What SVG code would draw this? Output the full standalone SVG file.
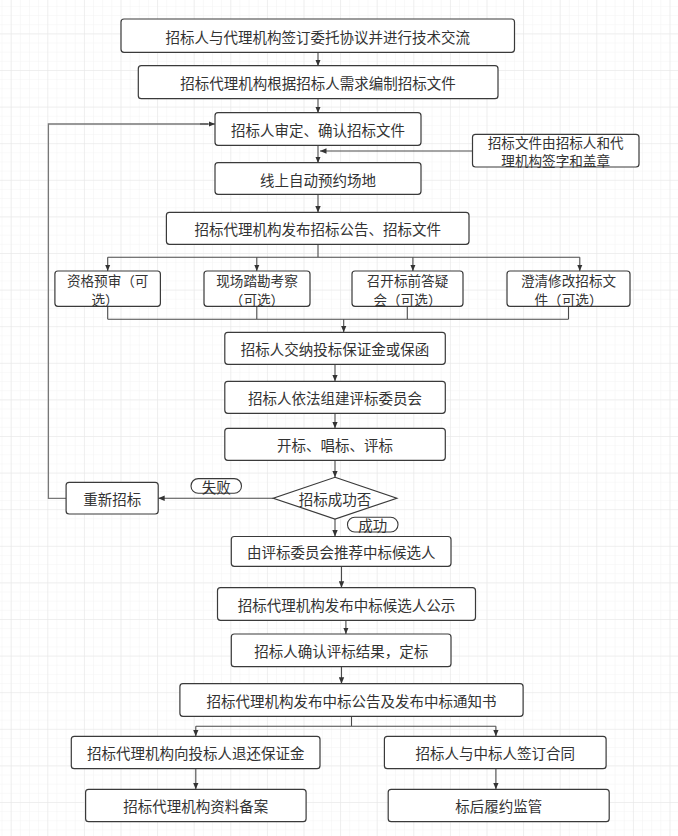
<svg xmlns="http://www.w3.org/2000/svg" width="678" height="836" viewBox="0 0 678 836">
<defs>
<style>
.box{fill:#fff;stroke:#3a3a3a;stroke-width:1.2}
.pill{fill:#fff;stroke:#3a3a3a;stroke-width:1.1}
.t{font-family:"Noto Sans CJK SC","Noto Sans",sans-serif;font-size:14.5px;fill:#333;text-anchor:middle;dominant-baseline:central}
.t2{font-size:13.6px}
.c{fill:none;stroke:#4a4a4a;stroke-width:1.1}
.ca{fill:none;stroke:#4a4a4a;stroke-width:1.1;marker-end:url(#ah)}
.fb{fill:none;stroke:#777;stroke-width:1.3}
</style>
<marker id="ah" markerUnits="userSpaceOnUse" markerWidth="7" markerHeight="6" refX="6.5" refY="3" orient="auto">
<path d="M0,0.3 L6.5,3 L0,5.7 z" fill="#333"/>
</marker>
<pattern id="minor" patternUnits="userSpaceOnUse" x="10.7" y="33.4" width="9.15" height="9.15">
<path d="M0,0 H9.15 M0,0 V9.15" fill="none" stroke="#f3f3f3" stroke-width="1"/>
</pattern>
<pattern id="major" patternUnits="userSpaceOnUse" x="10.7" y="33.4" width="36.6" height="36.6">
<path d="M0,0 H36.6 M0,0 V36.6" fill="none" stroke="#e6e6e6" stroke-width="1"/>
</pattern>
</defs>
<rect width="678" height="836" fill="#fff"/>
<rect width="678" height="836" fill="url(#minor)"/>
<rect width="678" height="836" fill="url(#major)"/>

<g id="connectors">
<path class="ca" d="M318,52.3 V66"/>
<path class="ca" d="M318,98.7 V113"/>
<path class="ca" d="M318,145.3 V163"/>
<path class="ca" d="M472.5,151 H320"/>
<path class="ca" d="M318,194.3 V212.5"/>
<path class="c" d="M318,244.5 V257.3 M107.7,257.3 H579.8"/>
<path class="ca" d="M107.7,257.3 V271"/>
<path class="ca" d="M256.8,257.3 V271"/>
<path class="ca" d="M412.9,257.3 V271"/>
<path class="ca" d="M579.8,257.3 V271"/>
<path class="c" d="M107.7,306.3 V319.3 M256.8,306.3 V319.3 M407.3,306.3 V319.3 M568.5,306.3 V319.3 M107.7,319.3 H568.5"/>
<path class="ca" d="M343.7,319.3 V332.3"/>
<path class="ca" d="M335,364.3 V381.3"/>
<path class="ca" d="M335,413.3 V428.3"/>
<path class="ca" d="M335,460.3 V477.3"/>
<path class="ca" d="M335,519 V536.5"/>
<path class="ca" d="M273.3,498.3 H158.2"/>
<path class="fb" d="M66,498.3 H48.4 V124 H208"/>
<path class="ca" d="M200,124 H215"/>
<path class="ca" d="M341.5,566.3 V587.7"/>
<path class="ca" d="M345.9,620.3 V634"/>
<path class="ca" d="M341.5,666.7 V683.7"/>
<path class="c" d="M351.5,716.3 V726.3 M195.8,726.3 H495.9"/>
<path class="ca" d="M195.8,726.3 V736.3"/>
<path class="ca" d="M495.9,726.3 V736.3"/>
<path class="ca" d="M195.8,768.7 V789.3"/>
<path class="ca" d="M495.9,768.7 V789.3"/>
</g>

<g id="n1"><rect class="box" x="121" y="19" width="393.5" height="33.3" rx="3"/><text class="t" x="317.7" y="36">招标人与代理机构签订委托协议并进行技术交流</text></g>
<g id="n2"><rect class="box" x="138.3" y="65.7" width="359.7" height="33" rx="3"/><text class="t" x="318" y="82.5">招标代理机构根据招标人需求编制招标文件</text></g>
<g id="n3"><rect class="box" x="215" y="112.7" width="206" height="32.6" rx="3"/><text class="t" x="318" y="129.3">招标人审定、确认招标文件</text></g>
<g id="n3b"><rect class="box" x="472.5" y="134.3" width="166.5" height="32.7" rx="3"/><text class="t t2" x="555.7" y="141.8">招标文件由招标人和代</text><text class="t t2" x="555.7" y="160.3">理机构签字和盖章</text></g>
<g id="n4"><rect class="box" x="215" y="162.7" width="206" height="31.6" rx="3"/><text class="t" x="318" y="179">线上自动预约场地</text></g>
<g id="n5"><rect class="box" x="166.4" y="212.3" width="302.6" height="32" rx="3"/><text class="t" x="317.7" y="228.7">招标代理机构发布招标公告、招标文件</text></g>
<g id="b1"><rect class="box" x="54.9" y="271" width="105.5" height="35.3" rx="3"/><text class="t t2" x="107.7" y="280">资格预审（可</text><text class="t t2" x="105" y="298.6">选）</text></g>
<g id="b2"><rect class="box" x="204" y="271" width="106" height="35.3" rx="3"/><text class="t t2" x="257" y="280">现场踏勘考察</text><text class="t t2" x="257" y="298.6">（可选）</text></g>
<g id="b3"><rect class="box" x="352" y="271" width="111" height="35.3" rx="3"/><text class="t t2" x="407.5" y="280">召开标前答疑</text><text class="t t2" x="407.5" y="298.6">会（可选）</text></g>
<g id="b4"><rect class="box" x="507" y="271" width="123" height="35.3" rx="3"/><text class="t t2" x="568.5" y="280">澄清修改招标文</text><text class="t t2" x="568.5" y="298.6">件（可选）</text></g>
<g id="n6"><rect class="box" x="224.8" y="332.3" width="220.5" height="32" rx="3"/><text class="t" x="335" y="348.7">招标人交纳投标保证金或保函</text></g>
<g id="n7"><rect class="box" x="224.8" y="381.3" width="220.5" height="32" rx="3"/><text class="t" x="335" y="397.7">招标人依法组建评标委员会</text></g>
<g id="n8"><rect class="box" x="224.8" y="428.3" width="220.5" height="32" rx="3"/><text class="t" x="335" y="444.7">开标、唱标、评标</text></g>
<g id="d1"><path class="box" d="M335,477.3 L396.8,498.3 L335,519 L273.3,498.3 Z"/><text class="t" x="335" y="498.5">招标成功否</text></g>
<g id="l1"><rect class="pill" x="191" y="478.6" width="50.5" height="14.7" rx="7.3"/><text class="t" x="216.2" y="486">失败</text></g>
<g id="l2"><rect class="pill" x="347.5" y="517.3" width="50.5" height="14.7" rx="7.3"/><text class="t" x="372.7" y="524.7">成功</text></g>
<g id="n9"><rect class="box" x="66.1" y="482.3" width="92.1" height="31.7" rx="3"/><text class="t" x="112.2" y="498.5">重新招标</text></g>
<g id="n10"><rect class="box" x="231.3" y="536.5" width="219.7" height="29.8" rx="3"/><text class="t" x="341.2" y="551.5">由评标委员会推荐中标候选人</text></g>
<g id="n11"><rect class="box" x="217.5" y="587.7" width="258" height="32.6" rx="3"/><text class="t" x="346.5" y="604">招标代理机构发布中标候选人公示</text></g>
<g id="n12"><rect class="box" x="231.3" y="634" width="219.7" height="32.7" rx="3"/><text class="t" x="341.2" y="650.5">招标人确认评标结果，定标</text></g>
<g id="n13"><rect class="box" x="179.9" y="683.7" width="343.2" height="32.6" rx="3"/><text class="t" x="351.5" y="700">招标代理机构发布中标公告及发布中标通知书</text></g>
<g id="n14"><rect class="box" x="71.3" y="736.3" width="248.7" height="32.4" rx="3"/><text class="t" x="195.7" y="752.5">招标代理机构向投标人退还保证金</text></g>
<g id="n15"><rect class="box" x="384.4" y="736.3" width="221.7" height="32.4" rx="3"/><text class="t" x="495.3" y="752.5">招标人与中标人签订合同</text></g>
<g id="n16"><rect class="box" x="85.6" y="789.3" width="220.5" height="32.4" rx="3"/><text class="t" x="195.8" y="805.5">招标代理机构资料备案</text></g>
<g id="n17"><rect class="box" x="388.2" y="789.3" width="221" height="32.4" rx="3"/><text class="t" x="498.7" y="805.5">标后履约监管</text></g>
</svg>
